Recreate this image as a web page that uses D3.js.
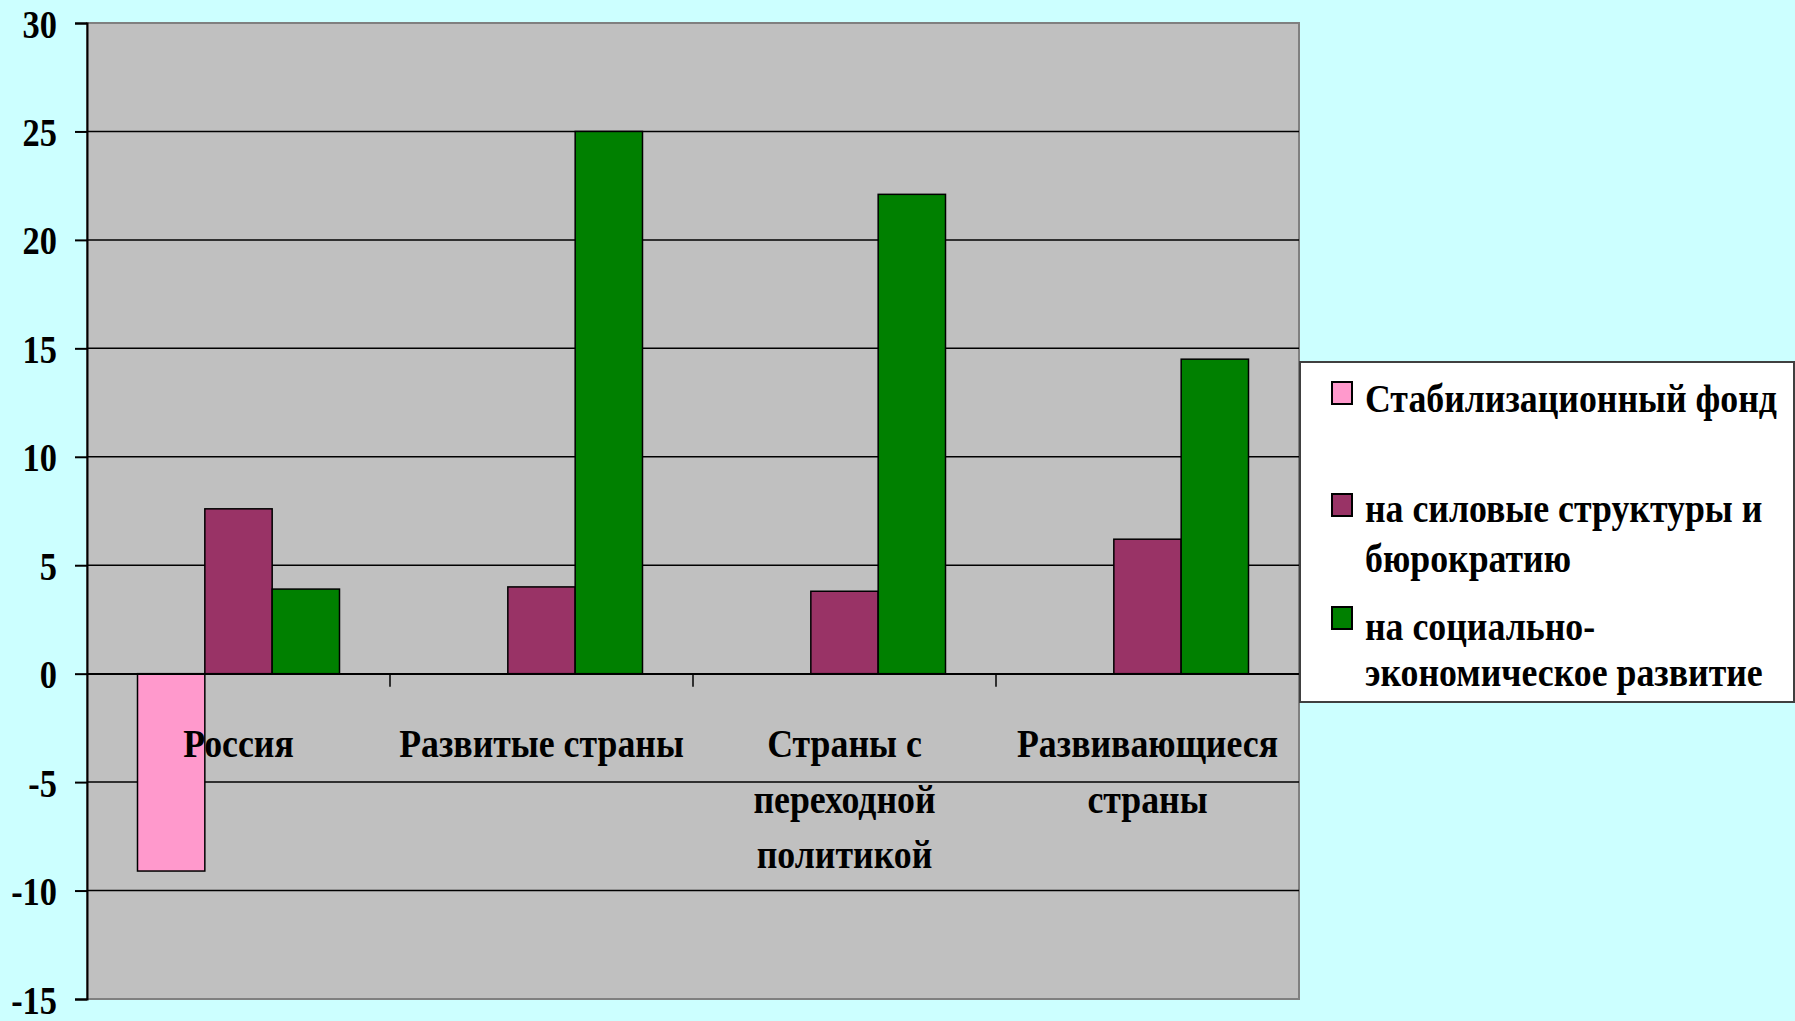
<!DOCTYPE html>
<html><head><meta charset="utf-8">
<script src="https://cdn.jsdelivr.net/npm/d3@7"></script>
<style>html,body{margin:0;padding:0;background:#CCFFFF;overflow:hidden}</style>
</head><body>
<svg id="c" width="1795" height="1021"></svg>
<script>
const categories = [["Россия"], ["Развитые страны"], ["Страны с", "переходной", "политикой"], ["Развивающиеся", "страны"]];
const categoryKeys = ["Россия", "Развитые страны", "Страны с переходной политикой", "Развивающиеся страны"];
const seriesNames = ["Стабилизационный фонд", "на силовые структуры и бюрократию", "на социально-экономическое развитие"];
const legendLines = [["Стабилизационный фонд"], ["на силовые структуры и", "бюрократию"], ["на социально-", "экономическое развитие"]];
const stabFund = [-9.1, null, null, null];
const securityBureaucracy = [7.6, 4.0, 3.8, 6.2];
const socialEconomic = [3.9, 25.0, 22.1, 14.5];
const yTicks = [-15, -10, -5, 0, 5, 10, 15, 20, 25, 30];
const colors = ["#FF99CC", "#993366", "#008000"];

const seriesValues = [stabFund, securityBureaucracy, socialEconomic];
const svg = d3.select("#c");
const L = 87, R = 1299, T = 23, B = 999;
const FONT = "'Liberation Serif','Times New Roman',serif";
const SX = 0.86, SXT = 0.895;

const y = d3.scaleLinear().domain([-15, 30]).range([B, T]);
const x0 = d3.scaleBand().domain(categoryKeys).range([L, R]).paddingInner(0).paddingOuter(0);
const x1 = d3.scaleBand().domain(d3.range(seriesNames.length)).range([0, x0.bandwidth()]).paddingInner(0).paddingOuter(0.75);

// plot area
svg.append("rect").attr("x", L).attr("y", T).attr("width", R - L).attr("height", B - T)
  .attr("fill", "#C0C0C0").attr("stroke", "#808080").attr("stroke-width", 2);

// gridlines
svg.append("g").selectAll("line").data(yTicks.filter(t => t > -15 && t < 30)).join("line")
  .attr("x1", L).attr("x2", R).attr("y1", d => y(d)).attr("y2", d => y(d))
  .attr("stroke", "#000").attr("stroke-width", 1.5);

// y axis
const yAxis = d3.axisLeft(y).tickValues(yTicks).tickSize(12).tickFormat(d => String(d));
const ya = svg.append("g").attr("transform", `translate(${L},0)`).call(yAxis);
ya.select(".domain").attr("stroke", "#000").attr("stroke-width", 2);
ya.selectAll(".tick line").attr("stroke", "#000").attr("stroke-width", 2);
ya.selectAll(".tick text").each(function(d) {
  const t = d3.select(this);
  t.attr("x", null).attr("dy", null).attr("text-anchor", "end")
   .attr("transform", `translate(-30,14) scale(${SX},1)`)
   .attr("font-family", FONT).attr("font-weight", "bold").attr("font-size", 40).attr("fill", "#000");
});

// bars
const groups = svg.append("g").selectAll("g").data(categoryKeys).join("g")
  .attr("transform", d => `translate(${x0(d)},0)`);
groups.selectAll("rect").data((d, i) => seriesValues.map((s, k) => ({k, v: s[i]})).filter(e => e.v != null)).join("rect")
  .attr("x", e => x1(e.k)).attr("width", x1.bandwidth())
  .attr("y", e => y(Math.max(0, e.v))).attr("height", e => Math.abs(y(e.v) - y(0)))
  .attr("fill", e => colors[e.k]).attr("stroke", "#000").attr("stroke-width", 1.5);

// x axis at zero
const xAxis = d3.axisBottom(x0).tickSize(0).tickFormat("");
const xa = svg.append("g").attr("transform", `translate(0,${y(0)})`).call(xAxis);
xa.select(".domain").attr("stroke", "#000").attr("stroke-width", 1.5);
xa.selectAll(".tick").remove();
svg.append("g").selectAll("line").data(categoryKeys.slice(1)).join("line")
  .attr("x1", d => x0(d)).attr("x2", d => x0(d)).attr("y1", y(0)).attr("y2", y(0) + 13)
  .attr("stroke", "#000").attr("stroke-width", 1.5);

// category labels
const catG = svg.append("g");
categories.forEach((lines, i) => {
  const cx = x0(categoryKeys[i]) + x0.bandwidth() / 2;
  lines.forEach((ln, j) => {
    catG.append("text").text(ln).attr("text-anchor", "middle")
      .attr("transform", `translate(${cx},${757 + j * 55.5}) scale(${SXT},1)`)
      .attr("font-family", FONT).attr("font-weight", "bold").attr("font-size", 40).attr("fill", "#000");
  });
});

// legend
const lg = svg.append("g");
lg.append("rect").attr("x", 1300).attr("y", 362).attr("width", 494).attr("height", 340)
  .attr("fill", "#fff").attr("stroke", "#404040").attr("stroke-width", 2);
const swY = [382, 494, 607];
const txtY = [[412], [522, 572], [640, 686]];
legendLines.forEach((lines, k) => {
  lg.append("rect").attr("x", 1332).attr("y", swY[k]).attr("width", 20).attr("height", 22)
    .attr("fill", colors[k]).attr("stroke", "#000").attr("stroke-width", 2);
  lines.forEach((ln, j) => {
    lg.append("text").text(ln).attr("transform", `translate(1365,${txtY[k][j]}) scale(${SXT},1)`)
      .attr("font-family", FONT).attr("font-weight", "bold").attr("font-size", 40).attr("fill", "#000");
  });
});
</script>
</body></html>
